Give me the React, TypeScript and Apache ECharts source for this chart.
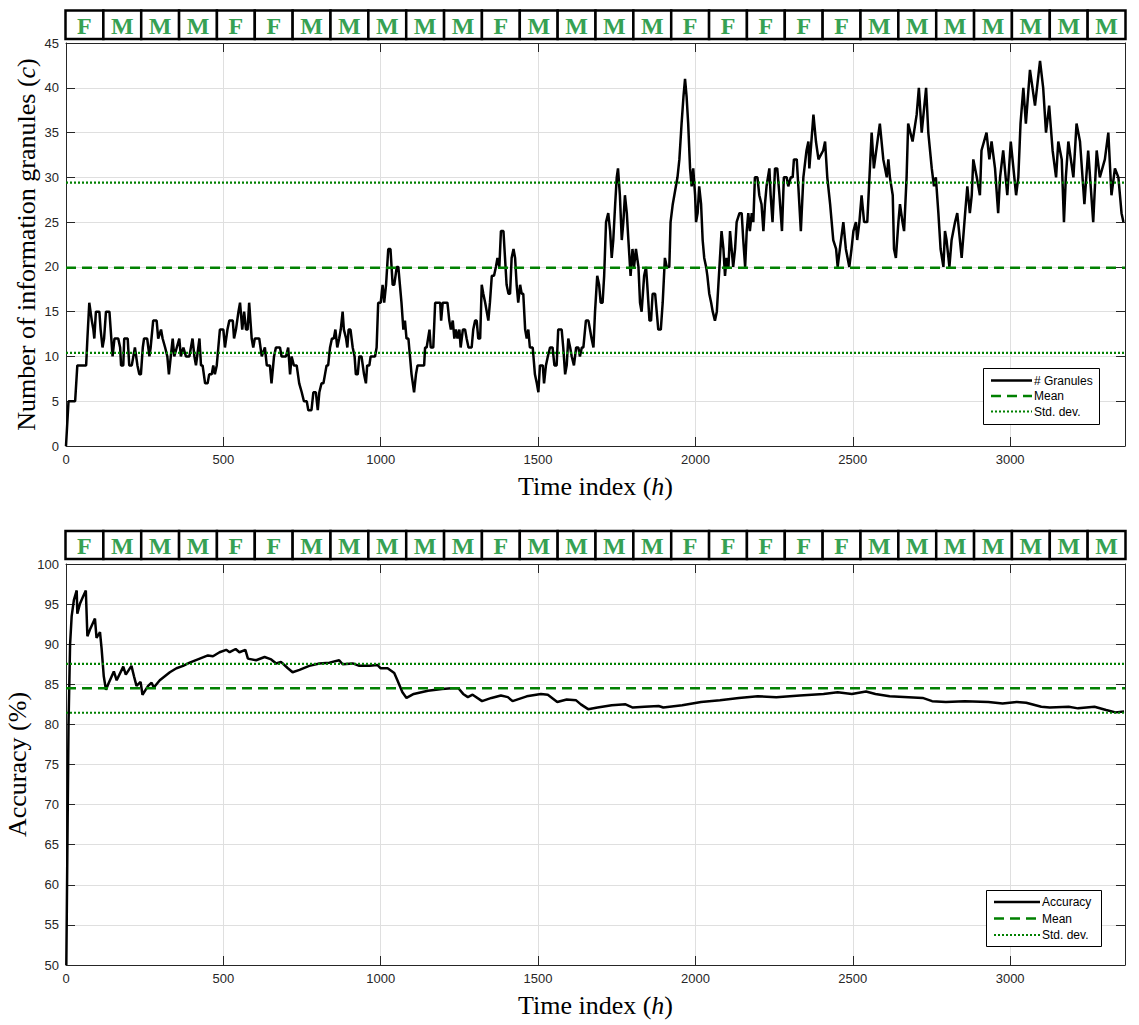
import React, { useEffect, useRef } from "react";
import * as echarts from "echarts";

// ---------- data ----------
const headerLabels = ["F","M","M","M","F","F","M","M","M","M","M","F","M","M","M","M","F","F","F","F","F","M","M","M","M","M","M","M"];

const granX = [0,8,29,36,64,68,74,82,87,90,95,106,110,116,121,127,138,142,148,154,166,172,175,182,185,196,201,209,214,219,227,233,238,244,248,258,265,269,277,288,293,302,307,315,322,327,333,339,344,352,360,365,373,381,392,397,402,408,413,424,429,434,442,450,455,463,468,473,479,484,489,500,505,513,519,530,534,540,548,553,560,566,572,577,582,590,595,600,614,622,632,638,648,653,661,667,680,685,699,706,712,717,724,733,741,749,756,765,770,780,786,794,800,805,812,818,823,828,833,839,845,851,856,862,868,873,879,883,890,894,898,904,911,917,921,927,932,939,947,953,957,964,968,976,982,987,992,1000,1006,1011,1017,1024,1031,1038,1043,1051,1056,1061,1066,1072,1077,1082,1088,1093,1098,1106,1112,1117,1128,1138,1141,1146,1155,1159,1167,1173,1189,1192,1197,1212,1218,1223,1229,1234,1239,1244,1250,1254,1261,1268,1273,1279,1289,1294,1300,1305,1310,1316,1321,1326,1332,1337,1342,1347,1353,1360,1366,1371,1377,1382,1390,1395,1400,1406,1411,1416,1422,1427,1432,1437,1443,1448,1453,1459,1464,1469,1474,1483,1490,1496,1501,1506,1515,1519,1525,1531,1538,1546,1552,1559,1564,1575,1580,1586,1591,1596,1602,1607,1614,1621,1628,1633,1639,1644,1652,1660,1665,1670,1676,1681,1688,1694,1699,1705,1710,1716,1723,1729,1734,1739,1745,1750,1754,1760,1766,1771,1776,1782,1787,1794,1800,1805,1811,1819,1824,1829,1837,1843,1847,1854,1859,1864,1872,1877,1882,1890,1896,1903,1909,1917,1921,1928,1933,1938,1943,1949,1956,1962,1967,1972,1977,1983,1988,1993,1999,2002,2007,2012,2018,2023,2028,2034,2038,2044,2050,2055,2062,2068,2073,2078,2083,2089,2094,2099,2105,2110,2115,2120,2126,2131,2140,2147,2152,2158,2163,2168,2173,2179,2184,2189,2197,2203,2210,2216,2221,2226,2235,2239,2245,2253,2260,2267,2275,2281,2290,2295,2303,2309,2313,2322,2327,2335,2343,2353,2359,2362,2375,2383,2391,2406,2412,2419,2428,2438,2447,2452,2459,2470,2478,2489,2496,2502,2510,2514,2521,2528,2536,2546,2553,2560,2567,2586,2597,2608,2613,2618,2627,2631,2637,2645,2650,2658,2663,2671,2676,2690,2703,2710,2719,2733,2740,2751,2758,2764,2772,2779,2788,2793,2798,2807,2814,2825,2832,2846,2857,2864,2872,2878,2883,2894,2904,2909,2925,2934,2941,2952,2962,2968,2978,2991,3002,3019,3026,3033,3042,3050,3063,3079,3095,3105,3114,3124,3135,3146,3153,3164,3171,3177,3185,3201,3211,3222,3236,3248,3264,3275,3285,3301,3312,3322,3333,3344,3354,3360];
const granY = [0,5,5,9,9,12,16,14,13,12,15,15,13,11,12,15,15,13,10,12,12,11,9,9,12,12,9,9,10,11,9,8,8,11,12,12,10,11,14,14,12,13,12,11,10,8,10,12,10,11,12,10,11,10,10,11,12,10,9,12,9,9,7,7,8,8,9,8,9,11,13,13,11,13,14,14,12,13,15,16,13,15,13,13,16,12,11,12,12,10,11,9,9,7,10,11,11,10,10,11,8,10,9,9,7,6,5,5,4,4,6,6,4,6,7,7,8,9,9,11,12,12,13,11,12,13,15,13,12,11,13,13,11,10,8,8,10,10,8,7,9,9,10,10,10,11,16,16,18,16,18,22,22,18,18,20,20,18,16,13,14,12,12,10,8,6,8,9,9,9,11,11,13,11,11,16,16,14,16,16,14,13,14,12,13,12,13,11,13,13,12,11,11,13,14,14,12,12,18,17,16,15,14,16,19,19,20,21,20,24,24,21,18,17,17,21,22,21,18,16,18,17,17,13,12,13,11,11,8,7,6,9,9,7,9,10,11,11,9,9,13,13,11,8,9,12,11,10,9,11,11,10,11,11,14,14,13,12,11,15,19,18,16,16,19,25,26,24,21,23,27,30,31,28,23,25,28,26,23,19,22,20,22,20,16,15,19,20,18,14,14,17,17,15,13,13,16,21,20,20,25,27,28,29,30,32,36,39,41,39,36,31,29,31,28,25,26,29,27,23,21,20,19,17,16,15,14,15,18,21,24,22,19,21,20,24,22,20,22,25,26,26,23,20,24,26,24,26,25,30,30,28,27,24,27,29,31,28,25,31,31,28,24,30,30,29,30,30,32,32,29,24,30,33,34,31,37,34,32,33,34,30,27,23,22,20,22,25,22,20,22,24,25,23,25,28,25,25,30,35,31,36,32,30,32,30,28,22,21,25,27,25,24,30,36,34,37,40,35,40,35,31,29,30,26,22,20,24,23,20,23,25,26,21,26,29,26,28,32,30,28,33,35,32,34,31,26,30,33,28,34,28,30,36,40,36,42,38,43,40,35,38,33,30,34,32,25,30,34,30,36,34,27,33,25,33,30,32,35,28,31,30,26,25];

const accX = [1,8,13,18,25,34,36,44,55,63,68,78,92,97,108,113,120,127,134,152,161,182,190,208,216,224,237,243,261,272,279,298,330,351,372,393,425,451,467,488,509,520,539,551,570,578,604,631,652,668,683,705,720,742,773,805,837,868,879,911,932,964,990,1000,1022,1043,1053,1069,1082,1105,1150,1195,1225,1247,1262,1277,1292,1322,1352,1382,1404,1419,1464,1509,1531,1561,1591,1621,1636,1659,1689,1734,1778,1801,1838,1883,1898,1958,2018,2078,2138,2198,2257,2332,2407,2452,2497,2542,2572,2617,2677,2722,2752,2796,2856,2931,2976,3021,3051,3099,3126,3186,3216,3268,3305,3335,3362];
const accY = [50,80,90,93.5,95.5,96.7,93.8,95,96,96.7,91,92,93.2,90.8,91.5,89.5,86,84.3,85,86.6,85.5,87.2,86.2,87.3,86,84.8,85.3,83.7,84.8,85.2,84.6,85.5,86.5,87,87.3,87.7,88.2,88.6,88.5,89,89.3,89,89.4,89,89.3,88.2,88,88.4,88.1,87.6,87.8,87,86.5,86.8,87.3,87.6,87.7,88,87.5,87.6,87.3,87.3,87.4,87,87,86.4,85.5,84,83.3,83.8,84.2,84.4,84.5,84.5,83.8,83.4,83.7,82.9,83.3,83.6,83.4,82.9,83.5,83.8,83.7,82.8,83.1,83,82.5,81.9,82.1,82.4,82.5,82.1,82.2,82.3,82.1,82.4,82.8,83,83.3,83.5,83.4,83.6,83.8,84,83.8,84.1,83.8,83.5,83.4,83.3,82.9,82.8,82.9,82.8,82.6,82.8,82.7,82.2,82.1,82.2,82,82.2,81.8,81.5,81.6];

const granMean = 19.9;
const granStd = 9.5;
const accMean = 84.5;
const accStd = 3.05;

const xMax = 3365;
const xTicks = 500;
const granRange = [0, 45];
const granTick = 5;
const accRange = [50, 100];
const accTick = 5;

// ---------- styles ----------
const SANS = "'Liberation Sans', Arial, sans-serif";
const SERIF = "'Liberation Serif', 'Times New Roman', serif";
const AX = "#262626";
const GRIDC = "#dfdfdf";
const GREEN = "#008000";
const LETTER = "#36a153";

function zip(xs: number[], ys: number[]) {
  return xs.map((x, i) => [x, ys[i]]);
}

const plain = (v: number) => String(v);

function makeAxes(gi: number, yr: number[], yt: number, yName: string, yGap: number) {
  const xa = [
    {
      gridIndex: gi, type: "value", min: 0, max: xMax, interval: xTicks, position: "bottom",
      axisLine: { show: true, onZero: false, lineStyle: { color: AX, width: 1 } },
      axisTick: { show: true, inside: true, length: 9, lineStyle: { color: AX } },
      axisLabel: { fontSize: 13, color: AX, fontFamily: SANS, margin: 7, showMaxLabel: false, formatter: plain },
      splitLine: { show: true, lineStyle: { color: GRIDC, width: 1 } },
      name: "Time index ({i|h})", nameLocation: "middle", nameGap: 27, nameMoveOverlap: false,
      nameTextStyle: { fontFamily: SERIF, fontSize: 26, color: "#000",
        rich: { i: { fontStyle: "italic", fontFamily: SERIF, fontSize: 26, color: "#000" } } },
    },
    {
      gridIndex: gi, type: "value", min: 0, max: xMax, interval: xTicks, position: "top",
      axisLine: { show: true, onZero: false, lineStyle: { color: AX, width: 1 } },
      axisTick: { show: true, inside: true, length: 9, lineStyle: { color: AX } },
      axisLabel: { show: false }, splitLine: { show: false },
    },
  ];
  const ya = [
    {
      gridIndex: gi, type: "value", min: yr[0], max: yr[1], interval: yt, position: "left",
      axisLine: { show: true, onZero: false, lineStyle: { color: AX, width: 1 } },
      axisTick: { show: true, inside: true, length: 9, lineStyle: { color: AX } },
      axisLabel: { fontSize: 13, color: AX, fontFamily: SANS, margin: 7, formatter: plain },
      splitLine: { show: true, lineStyle: { color: GRIDC, width: 1 } },
      name: yName, nameLocation: "middle", nameGap: yGap, nameMoveOverlap: false,
      nameTextStyle: { fontFamily: SERIF, fontSize: 26, color: "#000",
        rich: { i: { fontStyle: "italic", fontFamily: SERIF, fontSize: 26, color: "#000" } } },
    },
    {
      gridIndex: gi, type: "value", min: yr[0], max: yr[1], interval: yt, position: "right",
      axisLine: { show: true, onZero: false, lineStyle: { color: AX, width: 1 } },
      axisTick: { show: true, inside: true, length: 9, lineStyle: { color: AX } },
      axisLabel: { show: false }, splitLine: { show: false },
    },
  ];
  return { xa, ya };
}

function headerRow(y: number, h: number) {
  const x0 = 65.5, x1 = 1125.5;
  const w = (x1 - x0) / headerLabels.length;
  const els: any[] = [];
  headerLabels.forEach((lab, i) => {
    els.push({
      type: "rect", shape: { x: x0 + i * w, y, width: w, height: h },
      style: { fill: "#fff", stroke: "#000", lineWidth: 2.5 }, silent: true,
    });
    els.push({
      type: "text", x: x0 + i * w + w / 2, y: y + h / 2 + 1,
      style: { text: lab, fill: LETTER, font: `bold 24px ${SERIF}`, align: "center", verticalAlign: "middle" },
      silent: true,
    });
  });
  return els;
}

function legendBox(x: number, y: number, w: number, h: number, lineX0: number, lineX1: number, rows: number[], labels: string[]) {
  const els: any[] = [
    { type: "rect", shape: { x, y, width: w, height: h }, style: { fill: "#fff", stroke: "#000", lineWidth: 1 }, z: 100 },
  ];
  const styles = [
    { stroke: "#000", lineWidth: 2.5 },
    { stroke: GREEN, lineWidth: 2.5, lineDash: [10, 6] },
    { stroke: GREEN, lineWidth: 2.2, lineDash: [2, 2] },
  ];
  rows.forEach((ry, i) => {
    els.push({ type: "line", shape: { x1: lineX0, y1: ry, x2: lineX1, y2: ry }, style: styles[i], z: 101 });
    els.push({
      type: "text", x: lineX1 + 2, y: ry,
      style: { text: labels[i], fill: "#000", font: `12px ${SANS}`, align: "left", verticalAlign: "middle" },
      z: 101,
    });
  });
  return els;
}

export default function App() {
  const ref = useRef<HTMLDivElement>(null);
  useEffect(() => {
    if (!ref.current) return;
    const chart = echarts.init(ref.current, undefined, { renderer: "svg" });
    const top = makeAxes(0, granRange, granTick, "Number of information granules ({i|c})", 27);
    const bot = makeAxes(1, accRange, accTick, "Accuracy (%)", 36);

    const hline = (v: number, xi: number, yi: number, dash: any, w: number) => ({
      type: "line", xAxisIndex: xi, yAxisIndex: yi, symbol: "none", silent: true,
      data: [[0, v], [xMax, v]],
      lineStyle: { color: GREEN, width: w, type: dash },
    });

    chart.setOption({
      animation: false,
      backgroundColor: "#fff",
      grid: [
        { left: 66, top: 43, width: 1059, height: 403, containLabel: false, outerBoundsMode: "none" },
        { left: 66, top: 564, width: 1059, height: 401, containLabel: false, outerBoundsMode: "none" },
      ],
      xAxis: [...top.xa, ...bot.xa],
      yAxis: [...top.ya, ...bot.ya],
      series: [
        { type: "line", name: "# Granules", xAxisIndex: 0, yAxisIndex: 0, symbol: "none",
          data: zip(granX, granY), lineStyle: { color: "#000", width: 2.5 } },
        hline(granMean, 0, 0, [10, 6], 2.5),
        hline(granMean - granStd, 0, 0, [2, 2], 2.2),
        hline(granMean + granStd, 0, 0, [2, 2], 2.2),
        { type: "line", name: "Accuracy", xAxisIndex: 2, yAxisIndex: 2, symbol: "none",
          data: zip(accX, accY), lineStyle: { color: "#000", width: 2.5 } },
        hline(accMean, 2, 2, [10, 6], 2.5),
        hline(accMean - accStd, 2, 2, [2, 2], 2.2),
        hline(accMean + accStd, 2, 2, [2, 2], 2.2),
      ],
      graphic: [
        ...headerRow(10.5, 28.5),
        ...headerRow(531, 28),
        ...legendBox(983.5, 368.5, 116, 56, 991, 1032, [380.5, 396, 411.5], ["# Granules", "Mean", "Std. dev."]),
        ...legendBox(986.5, 890.5, 115, 56, 994, 1040, [902, 918.5, 935], ["Accuracy", "Mean", "Std. dev."]),
      ],
    });
    return () => chart.dispose();
  }, []);
  return (
    <div
      ref={ref}
      style={{ position: "fixed", left: 0, top: 0, width: 1139, height: 1025, background: "#fff" }}
    />
  );
}
